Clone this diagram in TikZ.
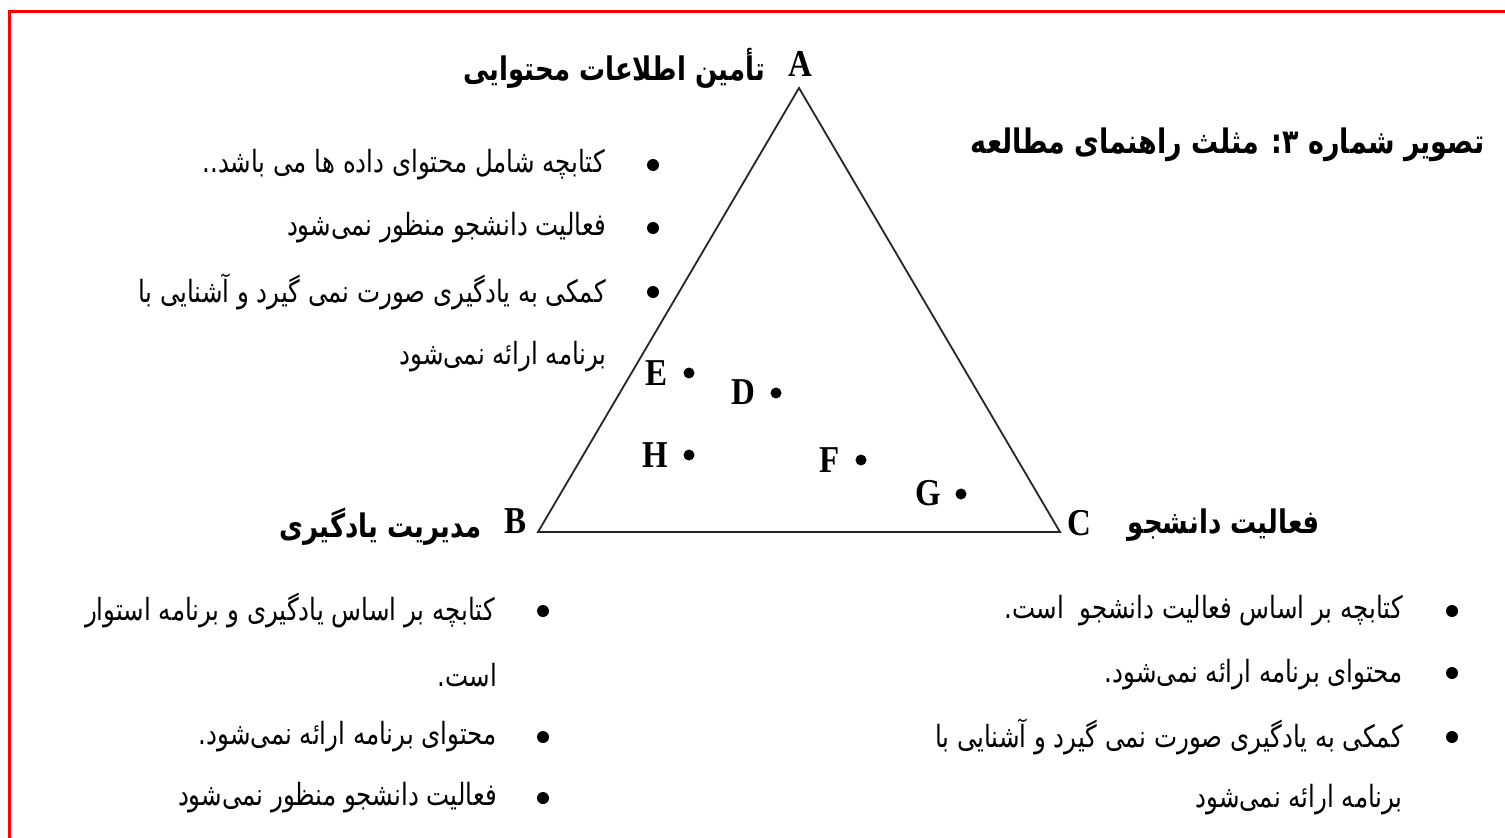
\documentclass[tikz,border=0pt]{standalone}
\usepackage{graphicx}
\usepackage{fontspec}
\setmainfont{Liberation Serif}
\newfontfamily\fa[Script=Arabic]{DejaVu Sans}
\TeXXeTstate=1
\newcommand\rtl[1]{\scalebox{1}[1.25]{\beginR #1\endR}}
\newcommand\ltr[1]{\scalebox{1}[1.15]{#1}}
\begin{document}
\begin{tikzpicture}[x=1pt,y=-1pt,
  body/.style={font=\fa\fontsize{24.5}{28}\selectfont, inner sep=0pt, anchor=east},
  head/.style={font=\fa\bfseries\fontsize{26}{30}\selectfont, inner sep=0pt, anchor=east},
  ttl/.style={font=\fa\bfseries\fontsize{27}{30}\selectfont, inner sep=0pt, anchor=east},
  vlab/.style={font=\bfseries\fontsize{33}{36}\selectfont, inner sep=0pt},
  plab/.style={font=\bfseries\fontsize{33}{36}\selectfont, inner sep=0pt},
  pdot/.style={circle, fill=black, inner sep=0pt, minimum size=11pt},
  bul/.style={circle, fill=black, inner sep=0pt, minimum size=12pt},
  tri/.style={draw=black!85, line width=1.8pt, line join=miter}
]
\useasboundingbox (0,0) rectangle (1505,838);
\fill[white] (0,0) rectangle (1505,838);
% red frame
\coordinate (fr1) at (1505,11.5);
\coordinate (fr2) at (9.5,11.5);
\coordinate (fr3) at (9.5,838);
\draw[red, line width=3pt] (fr1) -- (fr2) -- (fr3);

% triangle
\coordinate (A) at (799,88);
\coordinate (B) at (538,532);
\coordinate (C) at (1060,532);
\draw[tri] (A) -- (B) -- (C) -- cycle;

% vertex labels
\node[vlab] (lA) at (800,64) {\ltr{A}};
\node[vlab] (lB) at (516,521) {\ltr{B}};
\node[vlab] (lC) at (1079,523) {\ltr{C}};

\node[head] (hA) at (765,68) {\rtl{تأمین اطلاعات محتوایی}};
\node[head] (hB) at (482,527) {\rtl{مدیریت یادگیری}};
\node[head] (hC) at (1320,525) {\rtl{فعالیت دانشجو}};

% title
\node[ttl] (title) at (1485,145) {\rtl{تصویر شماره ۳: مثلث راهنمای مطالعه}};

% inner points
\node[plab] (tE) at (656,373) {\ltr{E}};
\node[pdot] (dE) at (689,373) {};
\node[plab] (tD) at (743,392) {\ltr{D}};
\node[pdot] (dD) at (776,393) {};
\node[plab] (tH) at (655,455) {\ltr{H}};
\node[pdot] (dH) at (689,455) {};
\node[plab] (tF) at (830,460) {\ltr{F}};
\node[pdot] (dF) at (861,460) {};
\node[plab] (tG) at (928,493) {\ltr{G}};
\node[pdot] (dG) at (961,494) {};

% top-left list
\node[bul] (b11) at (653,165) {};
\node[bul] (b12) at (653,228) {};
\node[bul] (b13) at (653,292) {};
\node[body] (t11) at (605,165) {\rtl{کتابچه شامل محتوای داده ها می باشد..}};
\node[body] (t12) at (606,228) {\rtl{فعالیت دانشجو منظور نمی‌شود}};
\node[body] (t13) at (606,292) {\rtl{کمکی به یادگیری صورت نمی گیرد و آشنایی با}};
\node[body] (t14) at (607,357) {\rtl{برنامه ارائه نمی‌شود}};

% bottom-left list
\node[bul] (b21) at (543,611) {};
\node[bul] (b22) at (543,737) {};
\node[bul] (b23) at (543,798) {};
\node[body] (t21) at (495,611) {\rtl{کتابچه بر اساس یادگیری و برنامه استوار}};
\node[body] (t22) at (497,675) {\rtl{است.}};
\node[body] (t23) at (497,737) {\rtl{محتوای برنامه ارائه نمی‌شود.}};
\node[body] (t24) at (497,798) {\rtl{فعالیت دانشجو منظور نمی‌شود}};

% bottom-right list
\node[bul] (b31) at (1452,611) {};
\node[bul] (b32) at (1452,673) {};
\node[bul] (b33) at (1452,737) {};
\node[body] (t31) at (1403,611) {\rtl{کتابچه بر اساس فعالیت دانشجو\ \ است.}};
\node[body] (t32) at (1403,675) {\rtl{محتوای برنامه ارائه نمی‌شود.}};
\node[body] (t33) at (1403,737) {\rtl{کمکی به یادگیری صورت نمی گیرد و آشنایی با}};
\node[body] (t34) at (1403,800) {\rtl{برنامه ارائه نمی‌شود}};
\end{tikzpicture}
\end{document}
